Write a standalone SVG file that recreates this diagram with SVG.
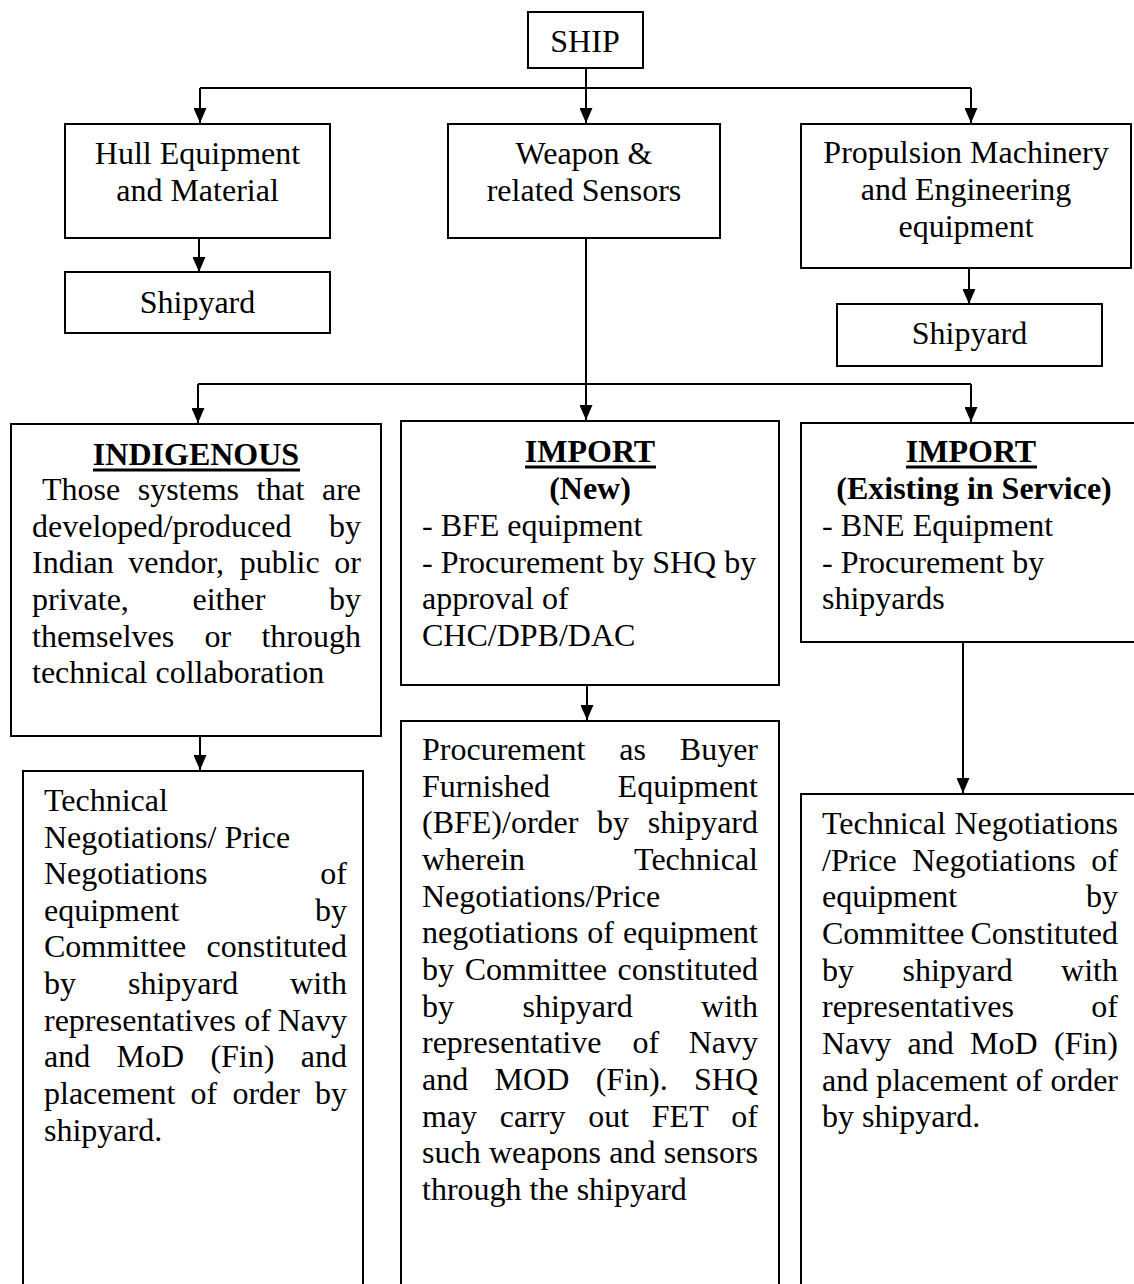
<svg xmlns="http://www.w3.org/2000/svg" width="1134" height="1284" viewBox="0 0 1134 1284">
<style>
.box{fill:#fff;stroke:#000;stroke-width:2}
.t{font-family:"Liberation Serif","Times New Roman",serif;font-size:32px;fill:#000}
.c{text-anchor:middle}
.e{text-anchor:end}
.b{font-weight:bold}
.ul{stroke:#000;stroke-width:3}
.con{fill:none;stroke:#000;stroke-width:2}
.arr{fill:none;stroke:#000;stroke-width:2;marker-end:url(#ah)}
</style>
<defs>
<marker id="ah" viewBox="0 0 15 13" refX="15" refY="6.5" markerWidth="15" markerHeight="13" markerUnits="userSpaceOnUse" orient="auto">
<path d="M0,0 L15,6.5 L0,13 z" fill="#000"/>
</marker>
</defs>
<rect width="1134" height="1284" fill="#fff"/>
<g id="connectors">
<path class="arr" d="M586,68 V123"/>
<path class="con" d="M200,88 H971"/>
<path class="arr" d="M200,88 V123"/>
<path class="arr" d="M971,88 V123"/>
<path class="arr" d="M199,238 V272"/>
<path class="arr" d="M969,268 V304"/>
<path class="con" d="M586,238 V384"/>
<path class="con" d="M198,384 H971"/>
<path class="arr" d="M198,384 V423"/>
<path class="arr" d="M586,384 V420"/>
<path class="arr" d="M971,384 V422"/>
<path class="arr" d="M200,736 V770"/>
<path class="arr" d="M587,685 V720"/>
<path class="arr" d="M963,642 V793"/>
</g>
<g id="ship">
<rect class="box" x="528" y="12" width="115" height="56"/>
<text class="t c" x="585" y="52">SHIP</text>
</g>
<g id="hull">
<rect class="box" x="65" y="124" width="265" height="114"/>
<text class="t c" x="197.5" y="164">Hull Equipment</text>
<text class="t c" x="197.5" y="201">and Material</text>
</g>
<g id="weapon">
<rect class="box" x="448" y="124" width="272" height="114"/>
<text class="t c" x="584" y="164">Weapon &amp;</text>
<text class="t c" x="584" y="201">related Sensors</text>
</g>
<g id="propulsion">
<rect class="box" x="801" y="124" width="330" height="144"/>
<text class="t c" x="966" y="163">Propulsion Machinery</text>
<text class="t c" x="966" y="200">and Engineering</text>
<text class="t c" x="966" y="237">equipment</text>
</g>
<g id="shipyard-hull">
<rect class="box" x="65" y="272" width="265" height="61"/>
<text class="t c" x="197.5" y="313">Shipyard</text>
</g>
<g id="shipyard-prop">
<rect class="box" x="837" y="304" width="265" height="62"/>
<text class="t c" x="969.5" y="344">Shipyard</text>
</g>
<g id="indigenous">
<rect class="box" x="11" y="424" width="370" height="312"/>
<text class="t c b" x="196" y="465">INDIGENOUS</text>
<line class="ul" x1="93" y1="470" x2="300" y2="470"/>
<text class="t" y="500"><tspan x="42">Those</tspan><tspan x="137.7">systems</tspan><tspan x="256.5">that</tspan><tspan x="361" text-anchor="end">are</tspan></text>
<text class="t" y="537"><tspan x="32">developed/produced</tspan><tspan x="361" text-anchor="end">by</tspan></text>
<text class="t" y="573"><tspan x="32">Indian</tspan><tspan x="128.3">vendor,</tspan><tspan x="239.7">public</tspan><tspan x="361" text-anchor="end">or</tspan></text>
<text class="t" y="610"><tspan x="32">private,</tspan><tspan x="192.5">either</tspan><tspan x="361" text-anchor="end">by</tspan></text>
<text class="t" y="647"><tspan x="32">themselves</tspan><tspan x="204.5">or</tspan><tspan x="361" text-anchor="end">through</tspan></text>
<text class="t" x="32" y="683">technical collaboration</text>
</g>
<g id="import-new">
<rect class="box" x="401" y="421" width="378" height="264"/>
<text class="t c b" x="590" y="462">IMPORT</text>
<line class="ul" x1="525" y1="467" x2="656" y2="467"/>
<text class="t c b" x="590" y="499">(New)</text>
<text class="t" x="422" y="536">- BFE equipment</text>
<text class="t" x="422" y="573">- Procurement by SHQ by</text>
<text class="t" x="422" y="609">approval of</text>
<text class="t" x="422" y="646">CHC/DPB/DAC</text>
</g>
<g id="import-existing">
<rect class="box" x="801" y="423" width="345" height="219"/>
<text class="t c b" x="971" y="462">IMPORT</text>
<line class="ul" x1="906" y1="467" x2="1037" y2="467"/>
<text class="t c b" x="974" y="499">(Existing in Service)</text>
<text class="t" x="822" y="536">- BNE Equipment</text>
<text class="t" x="822" y="573">- Procurement by</text>
<text class="t" x="822" y="609">shipyards</text>
</g>
<g id="indigenous-process">
<rect class="box" x="23" y="771" width="340" height="530"/>
<text class="t" x="44" y="811">Technical</text>
<text class="t" x="44" y="848">Negotiations/ Price</text>
<text class="t" y="884"><tspan x="44">Negotiations</tspan><tspan x="347" text-anchor="end">of</tspan></text>
<text class="t" y="921"><tspan x="44">equipment</tspan><tspan x="347" text-anchor="end">by</tspan></text>
<text class="t" y="957"><tspan x="44">Committee</tspan><tspan x="347" text-anchor="end">constituted</tspan></text>
<text class="t" y="994"><tspan x="44">by</tspan><tspan x="128">shipyard</tspan><tspan x="347" text-anchor="end">with</tspan></text>
<text class="t" y="1031"><tspan x="44">representatives</tspan><tspan x="244.3">of</tspan><tspan x="347" text-anchor="end">Navy</tspan></text>
<text class="t" y="1067"><tspan x="44">and</tspan><tspan x="116.5">MoD</tspan><tspan x="210.4">(Fin)</tspan><tspan x="347" text-anchor="end">and</tspan></text>
<text class="t" y="1104"><tspan x="44">placement</tspan><tspan x="190.6">of</tspan><tspan x="232.4">order</tspan><tspan x="347" text-anchor="end">by</tspan></text>
<text class="t" x="44" y="1141">shipyard.</text>
</g>
<g id="import-new-process">
<rect class="box" x="401" y="721" width="378" height="580"/>
<text class="t" y="760"><tspan x="422">Procurement</tspan><tspan x="619.3">as</tspan><tspan x="758" text-anchor="end">Buyer</tspan></text>
<text class="t" y="797"><tspan x="422">Furnished</tspan><tspan x="758" text-anchor="end">Equipment</tspan></text>
<text class="t" y="833"><tspan x="422">(BFE)/order</tspan><tspan x="597.1">by</tspan><tspan x="758" text-anchor="end">shipyard</tspan></text>
<text class="t" y="870"><tspan x="422">wherein</tspan><tspan x="758" text-anchor="end">Technical</tspan></text>
<text class="t" x="422" y="907">Negotiations/Price</text>
<text class="t" y="943"><tspan x="422">negotiations</tspan><tspan x="587.3">of</tspan><tspan x="758" text-anchor="end">equipment</tspan></text>
<text class="t" y="980"><tspan x="422">by</tspan><tspan x="464.7">Committee</tspan><tspan x="758" text-anchor="end">constituted</tspan></text>
<text class="t" y="1017"><tspan x="422">by</tspan><tspan x="522.5">shipyard</tspan><tspan x="758" text-anchor="end">with</tspan></text>
<text class="t" y="1053"><tspan x="422">representative</tspan><tspan x="632.6">of</tspan><tspan x="758" text-anchor="end">Navy</tspan></text>
<text class="t" y="1090"><tspan x="422">and</tspan><tspan x="494.6">MOD</tspan><tspan x="595.7">(Fin).</tspan><tspan x="758" text-anchor="end">SHQ</tspan></text>
<text class="t" y="1127"><tspan x="422">may</tspan><tspan x="499.8">carry</tspan><tspan x="588.2">out</tspan><tspan x="651.8">FET</tspan><tspan x="758" text-anchor="end">of</tspan></text>
<text class="t" y="1163"><tspan x="422">such</tspan><tspan x="489">weapons</tspan><tspan x="609.3">and</tspan><tspan x="758" text-anchor="end">sensors</tspan></text>
<text class="t" x="422" y="1200">through the shipyard</text>
</g>
<g id="import-existing-process">
<rect class="box" x="801" y="794" width="345" height="510"/>
<text class="t" y="834"><tspan x="822">Technical</tspan><tspan x="1118" text-anchor="end">Negotiations</tspan></text>
<text class="t" y="871"><tspan x="822">/Price</tspan><tspan x="912.2">Negotiations</tspan><tspan x="1118" text-anchor="end">of</tspan></text>
<text class="t" y="907"><tspan x="822">equipment</tspan><tspan x="1118" text-anchor="end">by</tspan></text>
<text class="t" y="944"><tspan x="822">Committee</tspan><tspan x="1118" text-anchor="end">Constituted</tspan></text>
<text class="t" y="981"><tspan x="822">by</tspan><tspan x="902.5">shipyard</tspan><tspan x="1118" text-anchor="end">with</tspan></text>
<text class="t" y="1017"><tspan x="822">representatives</tspan><tspan x="1118" text-anchor="end">of</tspan></text>
<text class="t" y="1054"><tspan x="822">Navy</tspan><tspan x="907.6">and</tspan><tspan x="970.1">MoD</tspan><tspan x="1118" text-anchor="end">(Fin)</tspan></text>
<text class="t" y="1091"><tspan x="822">and</tspan><tspan x="876.2">placement</tspan><tspan x="1015.7">of</tspan><tspan x="1118" text-anchor="end">order</tspan></text>
<text class="t" x="822" y="1127">by shipyard.</text>
</g>
</svg>
